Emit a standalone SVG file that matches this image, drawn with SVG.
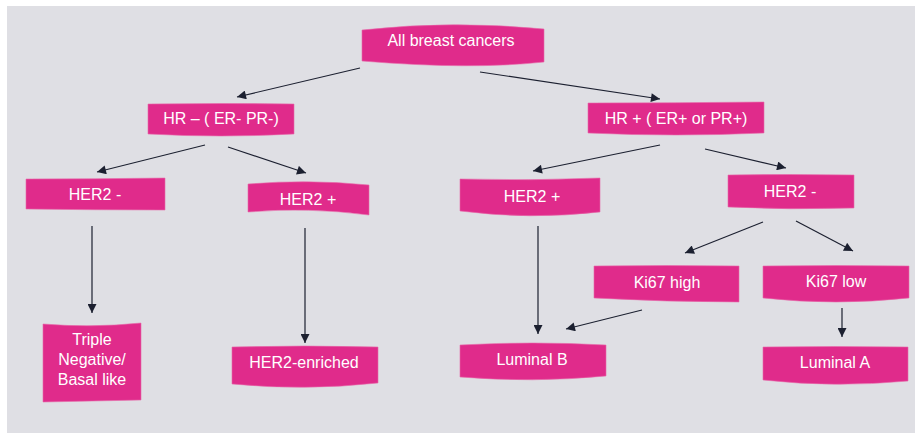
<svg xmlns="http://www.w3.org/2000/svg" width="915" height="433" viewBox="0 0 915 433">
<style>
.box{fill:#e02b8b;stroke:#e86aa9;stroke-width:0.6}
.t{font-family:"Liberation Sans",Arial,sans-serif;font-size:16px;fill:#ffffff;text-anchor:middle;dominant-baseline:central}
.c{stroke:#1c2030;stroke-width:1.2;fill:none;marker-end:url(#ah)}
</style>
<defs>
<marker id="ah" viewBox="0 0 10 10" refX="10" refY="5" markerWidth="10" markerHeight="9" markerUnits="userSpaceOnUse" orient="auto">
<path d="M0,0 L10,5 L0,10 Z" fill="#1c2030"/>
</marker>
</defs>
<rect x="0" y="0" width="915" height="433" fill="#ffffff"/>
<rect x="7" y="6" width="908" height="427" fill="#dfdfe4"/>
<g id="connectors">
<line class="c" x1="360" y1="68" x2="237" y2="97"/>
<line class="c" x1="480" y1="72" x2="660" y2="99"/>
<line class="c" x1="205" y1="145" x2="97" y2="172"/>
<line class="c" x1="228" y1="147" x2="306" y2="173"/>
<line class="c" x1="660" y1="145" x2="533" y2="171"/>
<line class="c" x1="705" y1="149" x2="786" y2="168"/>
<line class="c" x1="92" y1="226" x2="92" y2="313"/>
<line class="c" x1="305" y1="228" x2="305" y2="343"/>
<line class="c" x1="538" y1="226" x2="538" y2="334"/>
<line class="c" x1="763" y1="222" x2="685" y2="253"/>
<line class="c" x1="796" y1="221" x2="853" y2="251"/>
<line class="c" x1="642" y1="310" x2="566" y2="329"/>
<line class="c" x1="842" y1="308" x2="842" y2="337"/>
</g>
<g id="n-all">
<path class="box" d="M362,30 Q453,20 544,29 L544,62 Q470,70 362,61 Z"/>
<text class="t" x="451" y="40">All breast cancers</text>
</g>
<g id="n-hrneg">
<path class="box" d="M148,104 Q221,103 294,104 L294,134 Q221,138 148,134 Z"/>
<text class="t" x="221" y="118">HR – ( ER- PR-)</text>
</g>
<g id="n-hrpos">
<path class="box" d="M588,103 Q676,103 764,102 L764,133 Q676,137 588,133 Z"/>
<text class="t" x="676" y="118">HR + ( ER+ or PR+)</text>
</g>
<g id="n-her2neg-l">
<path class="box" d="M26,179 Q95,179 165,178 L165,210 Q95,210 26,209 Z"/>
<text class="t" x="95" y="194">HER2 -</text>
</g>
<g id="n-her2pos-l">
<path class="box" d="M248,184 Q308,179 369,185 L369,215 Q308,207 248,212 Z"/>
<text class="t" x="308" y="199">HER2 +</text>
</g>
<g id="n-her2pos-r">
<path class="box" d="M460,179 Q530,181 600,178 L600,212 Q530,220 460,211 Z"/>
<text class="t" x="532" y="196">HER2 +</text>
</g>
<g id="n-her2neg-r">
<path class="box" d="M728,175 Q791,174 854,175 L854,208 Q791,210 728,207 Z"/>
<text class="t" x="790" y="191">HER2 -</text>
</g>
<g id="n-ki67high">
<path class="box" d="M594,266 Q667,265 739,266 L739,302 Q667,302 594,298 Z"/>
<text class="t" x="667" y="282">Ki67 high</text>
</g>
<g id="n-ki67low">
<path class="box" d="M763,266 Q836,265 909,266 L909,298 Q836,306 763,298 Z"/>
<text class="t" x="836" y="281">Ki67 low</text>
</g>
<g id="n-triple">
<path class="box" d="M43,324 Q92,328 141,323 L141,400 Q92,401 43,402 Z"/>
<text class="t" x="92" y="339">Triple</text>
<text class="t" x="92" y="359">Negative/</text>
<text class="t" x="92" y="379">Basal like</text>
</g>
<g id="n-her2enr">
<path class="box" d="M232,347 Q305,345 378,347 L378,383 Q305,391 232,384 Z"/>
<text class="t" x="304" y="362">HER2-enriched</text>
</g>
<g id="n-lumb">
<path class="box" d="M460,345 Q533,341 606,345 L606,376 Q533,383 460,377 Z"/>
<text class="t" x="532" y="359">Luminal B</text>
</g>
<g id="n-luma">
<path class="box" d="M763,347 Q835,346 908,347 L908,381 Q835,388 763,380 Z"/>
<text class="t" x="835" y="362">Luminal A</text>
</g>
</svg>
